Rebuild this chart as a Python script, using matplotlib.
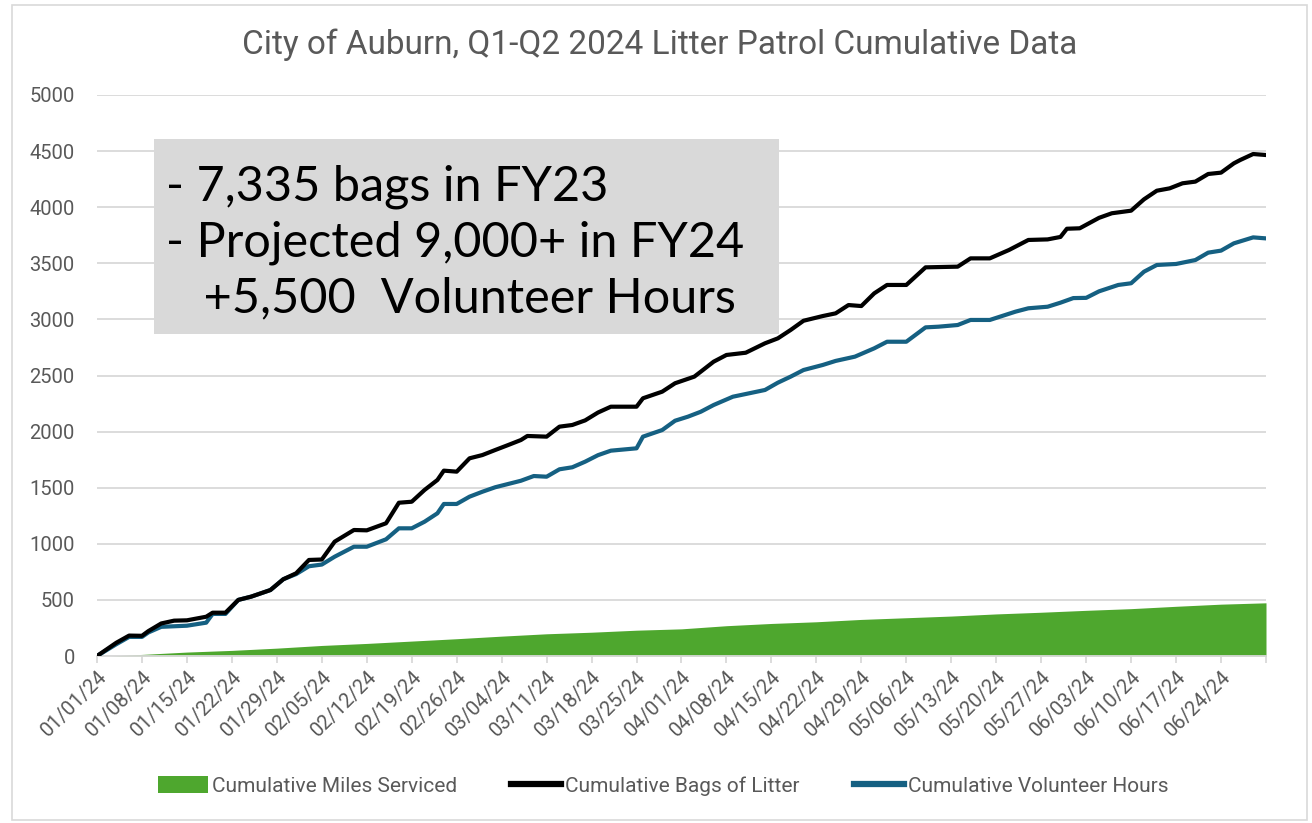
import numpy as np
import matplotlib
matplotlib.use("Agg")
import matplotlib.pyplot as plt
from matplotlib.patches import Rectangle, Patch
from matplotlib.lines import Line2D

# ---------------- data ----------------
start_date = np.datetime64("2024-01-01")

bag_days = [0, 3, 5, 7, 8, 10, 12, 14, 17, 18, 20, 22, 24, 27, 29, 31, 33, 35, 37, 40,
            42, 45, 47, 49, 51, 53, 54, 56, 58, 60, 62, 64, 66, 67, 70, 72, 74, 76, 78, 80,
            84, 85, 88, 90, 93, 94, 96, 98, 101, 104, 106, 108, 110, 113, 115, 117, 119, 121,
            123, 126, 129, 134, 136, 139, 142, 145, 148, 150, 151, 153, 156, 158, 161, 163,
            165, 167, 169, 171, 173, 175, 177, 178, 180, 182]
bags = [0, 118, 182, 180, 222, 290, 315, 318, 350, 386, 386, 500, 529, 588, 684, 737, 856, 860,
        1019, 1123, 1120, 1183, 1366, 1375, 1480, 1569, 1652, 1643, 1762, 1791, 1836, 1880,
        1925, 1961, 1955, 2044, 2059, 2100, 2170, 2222, 2222, 2297, 2356, 2431, 2490, 2534,
        2623, 2683, 2703, 2787, 2831, 2906, 2988, 3030, 3054, 3128, 3119, 3232, 3307, 3307,
        3464, 3470, 3544, 3544, 3619, 3708, 3713, 3735, 3808, 3812, 3905, 3946, 3969, 4070,
        4147, 4168, 4213, 4228, 4296, 4308, 4391, 4421, 4474, 4465]

hour_days = [0, 3, 5, 7, 8, 10, 12, 14, 17, 18, 20, 22, 24, 27, 29, 31, 33, 35, 37, 40,
             42, 45, 47, 49, 51, 53, 54, 56, 58, 60, 62, 64, 66, 68, 70, 72, 74, 76, 78, 80,
             84, 85, 88, 90, 92, 94, 96, 99, 101, 104, 106, 108, 110, 113, 115, 118, 121, 123,
             126, 129, 131, 134, 136, 139, 143, 145, 148, 150, 152, 154, 156, 159, 161, 163,
             165, 168, 171, 173, 175, 177, 180, 182]
hours = [0, 105, 170, 170, 210, 260, 265, 270, 297, 375, 375, 500, 529, 588, 684, 730, 800, 815,
         885, 974, 974, 1040, 1138, 1138, 1197, 1272, 1355, 1355, 1420, 1464, 1504, 1533, 1562,
         1604, 1598, 1664, 1682, 1732, 1790, 1830, 1851, 1955, 2014, 2097, 2133, 2177, 2237,
         2311, 2335, 2371, 2436, 2490, 2549, 2594, 2630, 2668, 2742, 2801, 2801, 2929, 2935,
         2950, 2995, 2995, 3069, 3099, 3113, 3149, 3190, 3192, 3250, 3307, 3322, 3425, 3485,
         3494, 3529, 3595, 3613, 3678, 3731, 3722]

mile_days = [0, 2, 7, 14, 21, 28, 35, 42, 49, 56, 63, 70, 77, 84, 91, 98, 105, 112, 119, 126,
             133, 140, 147, 154, 161, 168, 175, 182]
miles = [0, 0, 14, 35, 50, 70, 94, 112, 133, 154, 177, 198, 212, 230, 242, 270, 290, 305, 326,
         341, 356, 375, 390, 407, 422, 443, 462, 474]

tick_labels = ["01/01/24", "01/08/24", "01/15/24", "01/22/24", "01/29/24", "02/05/24",
               "02/12/24", "02/19/24", "02/26/24", "03/04/24", "03/11/24", "03/18/24",
               "03/25/24", "04/01/24", "04/08/24", "04/15/24", "04/22/24", "04/29/24",
               "05/06/24", "05/13/24", "05/20/24", "05/27/24", "06/03/24", "06/10/24",
               "06/17/24", "06/24/24"]

title = "City of Auburn, Q1-Q2 2024 Litter Patrol Cumulative Data"
box_lines = ["- 7,335 bags in FY23", "- Projected 9,000+ in FY24", "   +5,500  Volunteer Hours"]

# ---------------- figure ----------------
W, H = 1312, 823
fig = plt.figure(figsize=(W / 100, H / 100), dpi=100)
fig.patch.set_facecolor("white")

L, R, T, B = 97, 1266, 95, 656
ax = fig.add_axes([L / W, 1 - B / H, (R - L) / W, (B - T) / H])

def to_dates(days):
    return (start_date + np.array(days, dtype="timedelta64[D]")).astype("datetime64[D]")

GREEN = "#4EA72E"
BLUE = "#156082"
GRAY = "#595959"
GRID = "#D9D9D9"

ax.fill_between(to_dates(mile_days), miles, 0, color=GREEN, linewidth=0, zorder=2)
ax.plot(to_dates(bag_days), bags, color="black", lw=3.0, solid_joinstyle="round", zorder=4)
ax.plot(to_dates(hour_days), hours, color=BLUE, lw=3.0, solid_joinstyle="round", zorder=3)

ax.set_ylim(0, 5000)
ax.set_yticks(np.arange(0, 5001, 500))
ax.set_xlim(start_date, start_date + np.timedelta64(182, "D"))

tick_pos = [start_date + np.timedelta64(7 * i, "D") for i in range(len(tick_labels) + 1)]
ax.set_xticks(tick_pos)
ax.set_xticklabels(tick_labels + [""])

ax.grid(axis="y", color=GRID, lw=1.3, zorder=0)
ax.set_axisbelow(True)
for s in ["top", "right", "left"]:
    ax.spines[s].set_visible(False)
ax.spines["bottom"].set_color(GRID)
ax.spines["bottom"].set_linewidth(1.3)

ax.tick_params(axis="y", length=0, pad=16, labelsize=14.5, labelcolor=GRAY)
ax.tick_params(axis="x", length=5, width=1.3, color=GRID, pad=3, labelsize=14.5,
               labelcolor=GRAY)
for lab in ax.get_yticklabels() + ax.get_xticklabels():
    lab.set_fontfamily("Roboto")
for lab in ax.get_xticklabels():
    lab.set_rotation(45)
    lab.set_ha("right")
    lab.set_va("top")
    lab.set_rotation_mode("anchor")

# title
fig.text(660 / W, 1 - 45 / H, title, ha="center", va="center", fontsize=24,
         color=GRAY, family="Roboto")

# annotation box
fig.patches.append(Rectangle((154 / W, 1 - 334 / H), (779 - 154) / W, (334 - 139) / H,
                             transform=fig.transFigure, facecolor="#D9D9D9",
                             edgecolor="none", zorder=5))
ys = [187, 243, 298]
for txt, yy in zip(box_lines, ys):
    fig.text(166 / W, 1 - yy / H, txt, ha="left", va="center", fontsize=35,
             color="black", family="Lato", zorder=6)

# chart border
fig.patches.append(Rectangle((12 / W, 1 - 820 / H), (1307 - 12) / W, (820 - 5) / H,
                             transform=fig.transFigure, facecolor="none",
                             edgecolor=GRID, lw=1.2, zorder=1))

# legend
handles = [Patch(facecolor=GREEN, edgecolor="none"),
           Line2D([], [], color="black", lw=4.5),
           Line2D([], [], color=BLUE, lw=4.5)]
labels = ["Cumulative Miles Serviced", "Cumulative Bags of Litter", "Cumulative Volunteer Hours"]
leg = fig.legend(handles, labels, loc="center", bbox_to_anchor=(663 / W, 1 - 786 / H),
                 ncol=3, frameon=False, handlelength=2.4, handleheight=0.9,
                 handletextpad=0.2, columnspacing=2.6,
                 prop={"family": "Roboto", "size": 15})
for t in leg.get_texts():
    t.set_color(GRAY)

fig.savefig("out.png", dpi=100)
